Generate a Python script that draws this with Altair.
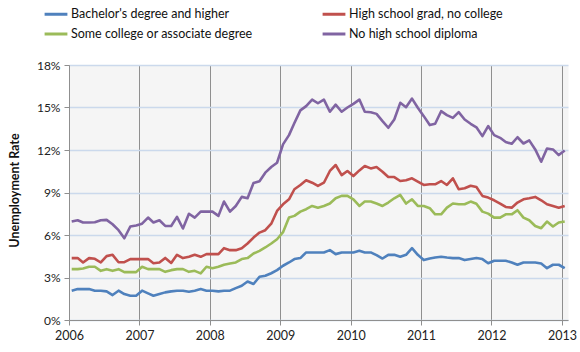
import altair as alt
import pandas as pd

series_names = [
    "Bachelor's degree and higher",
    "High school grad, no college",
    "Some college or associate degree",
    "No high school diploma",
]
colors = ["#4F81BD", "#C0504D", "#9BBB59", "#8064A2"]

# Monthly values, Jan 2006 .. Jan 2013 (percent)
bachelor = [
    2.07, 2.18, 2.18, 2.18, 2.07, 2.07, 2.02, 1.76, 2.07, 1.83, 1.71, 1.71,
    2.07, 1.88, 1.71, 1.83, 1.95, 2.02, 2.07, 2.07, 2.00, 2.07, 2.18, 2.07,
    2.07, 2.02, 2.07, 2.07, 2.25, 2.42, 2.72, 2.54, 3.05, 3.12, 3.30, 3.52,
    3.83, 4.06, 4.30, 4.37, 4.77, 4.77, 4.77, 4.77, 4.93, 4.65, 4.77, 4.77,
    4.77, 4.88, 4.77, 4.77, 4.58, 4.34, 4.60, 4.60, 4.46, 4.60, 5.07, 4.60,
    4.23, 4.34, 4.41, 4.46, 4.41, 4.37, 4.37, 4.23, 4.30, 4.37, 4.30, 4.01,
    4.18, 4.18, 4.18, 4.06, 3.90, 4.06, 4.06, 4.06, 3.99, 3.66, 3.90, 3.90,
    3.66,
]
hs_grad = [
    4.37, 4.37, 4.06, 4.37, 4.32, 4.06, 4.51, 4.60, 4.08, 4.08, 4.30, 4.30,
    4.30, 4.30, 4.01, 4.06, 4.38, 4.03, 4.60, 4.37, 4.46, 4.60, 4.46, 4.65,
    4.65, 4.65, 5.07, 4.93, 4.93, 5.07, 5.40, 5.82, 6.17, 6.34, 6.80, 7.70,
    8.17, 8.52, 9.23, 9.53, 9.86, 9.69, 9.46, 9.69, 10.52, 10.94, 10.23, 10.52,
    10.16, 10.56, 10.87, 10.70, 10.80, 10.47, 10.09, 10.09, 9.81, 9.86, 10.00, 9.77,
    9.53, 9.58, 9.58, 9.81, 9.53, 10.00, 9.23, 9.30, 9.48, 9.39, 8.76, 8.64,
    8.45, 8.22, 7.98, 7.93, 8.29, 8.52, 8.59, 8.69, 8.45, 8.17, 8.05, 7.93,
    8.05,
]
some_college = [
    3.59, 3.59, 3.64, 3.76, 3.76, 3.47, 3.59, 3.47, 3.59, 3.38, 3.38, 3.38,
    3.76, 3.59, 3.59, 3.59, 3.40, 3.52, 3.59, 3.59, 3.40, 3.47, 3.29, 3.76,
    3.66, 3.76, 3.90, 3.99, 4.06, 4.30, 4.37, 4.69, 4.88, 5.12, 5.40, 5.70,
    6.20, 7.23, 7.35, 7.65, 7.82, 8.05, 7.93, 8.05, 8.22, 8.59, 8.76, 8.76,
    8.52, 8.05, 8.36, 8.36, 8.22, 8.05, 8.29, 8.59, 8.83, 8.22, 8.52, 8.05,
    8.05, 7.89, 7.46, 7.46, 7.93, 8.22, 8.17, 8.17, 8.36, 8.20, 7.65, 7.51,
    7.23, 7.23, 7.46, 7.46, 7.75, 7.23, 7.04, 6.64, 6.48, 6.95, 6.60, 6.88,
    6.95,
]
no_hs = [
    6.95, 7.04, 6.88, 6.88, 6.90, 7.04, 7.07, 6.76, 6.34, 5.77, 6.60, 6.67,
    6.80, 7.23, 6.88, 7.04, 6.64, 6.64, 7.28, 6.46, 7.50, 7.23, 7.65, 7.65,
    7.65, 7.35, 8.36, 7.65, 8.05, 8.69, 8.60, 9.67, 9.80, 10.40, 10.80, 11.10,
    12.40, 13.05, 13.90, 14.80, 15.10, 15.56, 15.30, 15.56, 14.70, 15.20, 14.70, 15.00,
    15.26, 15.56, 14.70, 14.67, 14.55, 14.04, 13.57, 14.15, 15.33, 15.02, 15.63, 14.98,
    14.39, 13.76, 13.85, 14.74, 14.46, 14.27, 14.67, 14.15, 13.85, 13.60, 12.98, 13.69,
    13.05, 12.86, 12.56, 12.44, 12.90, 12.46, 12.68, 12.04, 11.17, 12.10, 12.04, 11.64,
    11.97,
]

months = [f"{2006 + i // 12}-{i % 12 + 1:02d}-15T00:00:00" for i in range(85)]
year_ticks = list(range(2006, 2014))
y_ticks = [0, 3, 6, 9, 12, 15, 18]

rows = []
for name, vals in zip(series_names, [bachelor, hs_grad, some_college, no_hs]):
    for m, v in zip(months, vals):
        rows.append({"date": m, "rate": v, "series": name})
df = pd.DataFrame(rows)

FONT = "Lato"

chart = alt.Chart(df).mark_line(strokeWidth=2.6, strokeJoin="round").encode(
    x=alt.X(
        "date:T",
        scale=alt.Scale(domain=[alt.DateTime(year=2006, month=1, date=1),
                                alt.DateTime(year=2013, month=2, date=1)]),
        axis=alt.Axis(
            values=[alt.DateTime(year=y, month=1, date=1) for y in year_ticks],
            format="%Y", title=None, grid=True, gridColor="#8f8f8f", gridWidth=1,
            domainColor="#8f8f8f", tickColor="#8f8f8f", tickSize=5,
            labelFont=FONT, labelFontSize=12.5, labelColor="#222222",
            labelPadding=4, labelFlush=False, labelOverlap=False,
        ),
    ),
    y=alt.Y(
        "rate:Q",
        scale=alt.Scale(domain=[0, 18], nice=False),
        axis=alt.Axis(
            values=y_ticks, labelExpr="datum.value + '%'",
            title="Unemployment Rate", titleFont=FONT, titleFontSize=12.5,
            titleFontWeight="bold", titleColor="#111111",
            titleX=-55, titleY=125, titleAngle=270, titleAlign="center",
            titleBaseline="middle",
            grid=True, gridColor="#cbd9ec", gridWidth=1.5,
            domainColor="#8f8f8f", tickColor="#8f8f8f", tickSize=5,
            labelFont=FONT, labelFontSize=12, labelColor="#222222", labelPadding=4,
        ),
    ),
    color=alt.Color(
        "series:N", sort=series_names,
        scale=alt.Scale(domain=series_names, range=colors),
        legend=alt.Legend(
            title=None, orient="none", legendX=-26, legendY=-64, columns=2,
            direction="horizontal", columnPadding=63, rowPadding=-5,
            symbolType="stroke", symbolStrokeWidth=3, symbolSize=520,
            labelFont=FONT, labelFontSize=12.5, labelColor="#111111",
            labelOffset=2, labelLimit=400,
        ),
    ),
).properties(
    width=499, height=255,
    autosize=alt.AutoSizeParams(type="none"),
    padding={"left": 69, "top": 65, "right": 12, "bottom": 32},
).configure_view(fill="#F5F5F5", stroke="transparent")

chart.save("out.html", embed_options={"renderer": "svg", "actions": False})
